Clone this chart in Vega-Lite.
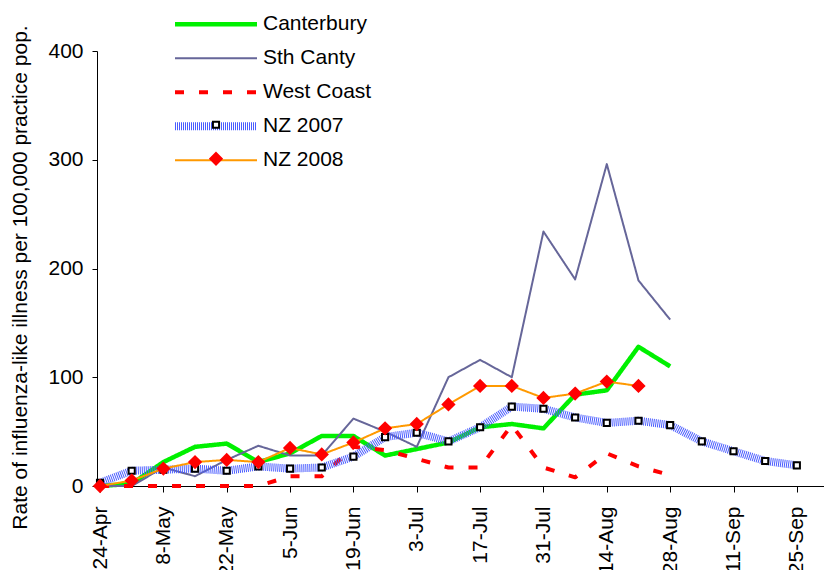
{
  "$schema": "https://vega.github.io/schema/vega-lite/v6.json",
  "width": 727,
  "height": 435,
  "autosize": "none",
  "padding": {"left": 97, "top": 51, "right": 0, "bottom": 84},
  "background": "#ffffff",
  "config": {
    "font": "Liberation Sans",
    "view": {"stroke": null},
    "axis": {"labelColor": "#000000", "titleColor": "#000000", "domainColor": "#000000", "tickColor": "#000000", "grid": false}
  },
  "data": {
    "values": [
      {"series": "Canterbury", "date": "2008-04-24T00:00", "rate": 0},
      {"series": "Canterbury", "date": "2008-05-01T00:00", "rate": 2},
      {"series": "Canterbury", "date": "2008-05-08T00:00", "rate": 22},
      {"series": "Canterbury", "date": "2008-05-15T00:00", "rate": 36},
      {"series": "Canterbury", "date": "2008-05-22T00:00", "rate": 39},
      {"series": "Canterbury", "date": "2008-05-29T00:00", "rate": 22},
      {"series": "Canterbury", "date": "2008-06-05T00:00", "rate": 30},
      {"series": "Canterbury", "date": "2008-06-12T00:00", "rate": 46},
      {"series": "Canterbury", "date": "2008-06-19T00:00", "rate": 46},
      {"series": "Canterbury", "date": "2008-06-26T00:00", "rate": 28},
      {"series": "Canterbury", "date": "2008-07-03T00:00", "rate": 34},
      {"series": "Canterbury", "date": "2008-07-10T00:00", "rate": 40},
      {"series": "Canterbury", "date": "2008-07-17T00:00", "rate": 54},
      {"series": "Canterbury", "date": "2008-07-24T00:00", "rate": 57},
      {"series": "Canterbury", "date": "2008-07-31T00:00", "rate": 53},
      {"series": "Canterbury", "date": "2008-08-07T00:00", "rate": 84},
      {"series": "Canterbury", "date": "2008-08-14T00:00", "rate": 88},
      {"series": "Canterbury", "date": "2008-08-21T00:00", "rate": 128},
      {"series": "Canterbury", "date": "2008-08-28T00:00", "rate": 110},
      {"series": "Sth Canty", "date": "2008-04-24T00:00", "rate": 0},
      {"series": "Sth Canty", "date": "2008-05-01T00:00", "rate": 0},
      {"series": "Sth Canty", "date": "2008-05-08T00:00", "rate": 17},
      {"series": "Sth Canty", "date": "2008-05-15T00:00", "rate": 9},
      {"series": "Sth Canty", "date": "2008-05-22T00:00", "rate": 24},
      {"series": "Sth Canty", "date": "2008-05-29T00:00", "rate": 37},
      {"series": "Sth Canty", "date": "2008-06-05T00:00", "rate": 28},
      {"series": "Sth Canty", "date": "2008-06-12T00:00", "rate": 28},
      {"series": "Sth Canty", "date": "2008-06-19T00:00", "rate": 62},
      {"series": "Sth Canty", "date": "2008-06-26T00:00", "rate": 50},
      {"series": "Sth Canty", "date": "2008-07-03T00:00", "rate": 36},
      {"series": "Sth Canty", "date": "2008-07-10T00:00", "rate": 100},
      {"series": "Sth Canty", "date": "2008-07-17T00:00", "rate": 116},
      {"series": "Sth Canty", "date": "2008-07-24T00:00", "rate": 100},
      {"series": "Sth Canty", "date": "2008-07-31T00:00", "rate": 234},
      {"series": "Sth Canty", "date": "2008-08-07T00:00", "rate": 190},
      {"series": "Sth Canty", "date": "2008-08-14T00:00", "rate": 296},
      {"series": "Sth Canty", "date": "2008-08-21T00:00", "rate": 189},
      {"series": "Sth Canty", "date": "2008-08-28T00:00", "rate": 153},
      {"series": "West Coast", "date": "2008-04-24T00:00", "rate": 0},
      {"series": "West Coast", "date": "2008-05-01T00:00", "rate": 0},
      {"series": "West Coast", "date": "2008-05-08T00:00", "rate": 0},
      {"series": "West Coast", "date": "2008-05-15T00:00", "rate": 0},
      {"series": "West Coast", "date": "2008-05-22T00:00", "rate": 0},
      {"series": "West Coast", "date": "2008-05-29T00:00", "rate": 0},
      {"series": "West Coast", "date": "2008-06-05T00:00", "rate": 9},
      {"series": "West Coast", "date": "2008-06-12T00:00", "rate": 9},
      {"series": "West Coast", "date": "2008-06-19T00:00", "rate": 36},
      {"series": "West Coast", "date": "2008-06-26T00:00", "rate": 33},
      {"series": "West Coast", "date": "2008-07-03T00:00", "rate": 25},
      {"series": "West Coast", "date": "2008-07-10T00:00", "rate": 17},
      {"series": "West Coast", "date": "2008-07-17T00:00", "rate": 17},
      {"series": "West Coast", "date": "2008-07-24T00:00", "rate": 56},
      {"series": "West Coast", "date": "2008-07-31T00:00", "rate": 17},
      {"series": "West Coast", "date": "2008-08-07T00:00", "rate": 8},
      {"series": "West Coast", "date": "2008-08-14T00:00", "rate": 30},
      {"series": "West Coast", "date": "2008-08-21T00:00", "rate": 18},
      {"series": "West Coast", "date": "2008-08-28T00:00", "rate": 10},
      {"series": "NZ 2007", "date": "2008-04-24T00:00", "rate": 3},
      {"series": "NZ 2007", "date": "2008-05-01T00:00", "rate": 14},
      {"series": "NZ 2007", "date": "2008-05-08T00:00", "rate": 15},
      {"series": "NZ 2007", "date": "2008-05-15T00:00", "rate": 16},
      {"series": "NZ 2007", "date": "2008-05-22T00:00", "rate": 14},
      {"series": "NZ 2007", "date": "2008-05-29T00:00", "rate": 18},
      {"series": "NZ 2007", "date": "2008-06-05T00:00", "rate": 16},
      {"series": "NZ 2007", "date": "2008-06-12T00:00", "rate": 17},
      {"series": "NZ 2007", "date": "2008-06-19T00:00", "rate": 27},
      {"series": "NZ 2007", "date": "2008-06-26T00:00", "rate": 45},
      {"series": "NZ 2007", "date": "2008-07-03T00:00", "rate": 49},
      {"series": "NZ 2007", "date": "2008-07-10T00:00", "rate": 41},
      {"series": "NZ 2007", "date": "2008-07-17T00:00", "rate": 54},
      {"series": "NZ 2007", "date": "2008-07-24T00:00", "rate": 73},
      {"series": "NZ 2007", "date": "2008-07-31T00:00", "rate": 71},
      {"series": "NZ 2007", "date": "2008-08-07T00:00", "rate": 63},
      {"series": "NZ 2007", "date": "2008-08-14T00:00", "rate": 58},
      {"series": "NZ 2007", "date": "2008-08-21T00:00", "rate": 60},
      {"series": "NZ 2007", "date": "2008-08-28T00:00", "rate": 56},
      {"series": "NZ 2007", "date": "2008-09-04T00:00", "rate": 41},
      {"series": "NZ 2007", "date": "2008-09-11T00:00", "rate": 32},
      {"series": "NZ 2007", "date": "2008-09-18T00:00", "rate": 23},
      {"series": "NZ 2007", "date": "2008-09-25T00:00", "rate": 19},
      {"series": "NZ 2008", "date": "2008-04-24T00:00", "rate": 0},
      {"series": "NZ 2008", "date": "2008-05-01T00:00", "rate": 5},
      {"series": "NZ 2008", "date": "2008-05-08T00:00", "rate": 16},
      {"series": "NZ 2008", "date": "2008-05-15T00:00", "rate": 22},
      {"series": "NZ 2008", "date": "2008-05-22T00:00", "rate": 24},
      {"series": "NZ 2008", "date": "2008-05-29T00:00", "rate": 22},
      {"series": "NZ 2008", "date": "2008-06-05T00:00", "rate": 35},
      {"series": "NZ 2008", "date": "2008-06-12T00:00", "rate": 29},
      {"series": "NZ 2008", "date": "2008-06-19T00:00", "rate": 40},
      {"series": "NZ 2008", "date": "2008-06-26T00:00", "rate": 53},
      {"series": "NZ 2008", "date": "2008-07-03T00:00", "rate": 57},
      {"series": "NZ 2008", "date": "2008-07-10T00:00", "rate": 75},
      {"series": "NZ 2008", "date": "2008-07-17T00:00", "rate": 92},
      {"series": "NZ 2008", "date": "2008-07-24T00:00", "rate": 92},
      {"series": "NZ 2008", "date": "2008-07-31T00:00", "rate": 81},
      {"series": "NZ 2008", "date": "2008-08-07T00:00", "rate": 85},
      {"series": "NZ 2008", "date": "2008-08-14T00:00", "rate": 96},
      {"series": "NZ 2008", "date": "2008-08-21T00:00", "rate": 92}
    ]
  },
  "encoding": {
    "x": {
      "field": "date",
      "type": "temporal",
      "scale": {"domain": [{"year": 2008, "month": 4, "date": 23, "hours": 8}, {"year": 2008, "month": 10, "date": 1}], "nice": false},
      "axis": {
        "title": null,
        "values": [
          {"year": 2008, "month": 4, "date": 24},
          {"year": 2008, "month": 5, "date": 8},
          {"year": 2008, "month": 5, "date": 22},
          {"year": 2008, "month": 6, "date": 5},
          {"year": 2008, "month": 6, "date": 19},
          {"year": 2008, "month": 7, "date": 3},
          {"year": 2008, "month": 7, "date": 17},
          {"year": 2008, "month": 7, "date": 31},
          {"year": 2008, "month": 8, "date": 14},
          {"year": 2008, "month": 8, "date": 28},
          {"year": 2008, "month": 9, "date": 11},
          {"year": 2008, "month": 9, "date": 25}
        ],
        "format": "%-d-%b",
        "labelAngle": -90,
        "labelFont": "Liberation Sans",
        "labelFontSize": 21,
        "labelOverlap": false,
        "labelFlush": false,
        "labelBound": false,
        "tickSize": 6,
        "labelPadding": 14
      }
    },
    "y": {
      "field": "rate",
      "type": "quantitative",
      "scale": {"domain": [0, 400], "nice": false},
      "axis": {
        "title": "Rate of influenza-like illness per 100,000 practice pop.",
        "values": [0, 100, 200, 300, 400],
        "labelFont": "Liberation Sans",
        "labelFontSize": 21,
        "tickSize": 5,
        "labelPadding": 9,
        "titleFont": "Liberation Sans",
        "titleFontSize": 21,
        "titleFontWeight": "normal",
        "titleAngle": -90,
        "titleX": -77,
        "titleY": 226,
        "titleAlign": "center",
        "titleBaseline": "middle"
      }
    }
  },
  "layer": [
    {
      "mark": {"type": "line", "strokeJoin": "round", "strokeCap": "butt"},
      "encoding": {
        "color": {
          "field": "series", "type": "nominal",
          "scale": {"domain": ["Canterbury", "Sth Canty", "West Coast", "NZ 2007", "NZ 2008"], "range": ["#00f000", "#666699", "#ff0000", "#4a5cff", "#ff9900"]},
          "legend": {"orient": "none", "legendX": 74, "legendY": -43.5, "title": null, "symbolSize": 6724, "clipHeight": 33.5, "rowPadding": 0, "padding": 0, "labelFont": "Liberation Sans", "labelFontSize": 21, "labelColor": "#000000", "labelOffset": 2, "labelLimit": 300}
        },
        "strokeDash": {
          "field": "series", "type": "nominal",
          "scale": {"domain": ["Canterbury", "Sth Canty", "West Coast", "NZ 2007", "NZ 2008"], "range": [[1, 0], [1, 0], [9, 15], [1, 1], [1, 0]]},
          "legend": {"orient": "none", "legendX": 74, "legendY": -43.5, "title": null, "symbolSize": 6724, "clipHeight": 33.5, "rowPadding": 0, "padding": 0, "labelFont": "Liberation Sans", "labelFontSize": 21, "labelColor": "#000000", "labelOffset": 2, "labelLimit": 300}
        },
        "strokeWidth": {
          "field": "series", "type": "nominal",
          "scale": {"type": "ordinal", "domain": ["Canterbury", "Sth Canty", "West Coast", "NZ 2007", "NZ 2008"], "range": [4.5, 2, 4, 8, 2]},
          "legend": {"orient": "none", "legendX": 74, "legendY": -43.5, "title": null, "symbolSize": 6724, "clipHeight": 33.5, "rowPadding": 0, "padding": 0, "labelFont": "Liberation Sans", "labelFontSize": 21, "labelColor": "#000000", "labelOffset": 2, "labelLimit": 300}
        }
      }
    },
    {
      "transform": [{"filter": {"field": "series", "oneOf": ["NZ 2007", "NZ 2008"]}}],
      "mark": {"type": "point", "filled": true, "size": 6724, "strokeWidth": 2, "opacity": 1},
      "encoding": {
        "shape": {
          "field": "series", "type": "nominal",
          "scale": {"domain": ["NZ 2007", "NZ 2008"], "range": ["M-0.075,-0.075H0.075V0.075H-0.075Z", "M0,-0.14L0.14,0L0,0.14L-0.14,0Z"]},
          "legend": {"orient": "none", "legendX": 77, "legendY": 57, "title": null, "symbolSize": 6724, "symbolStrokeWidth": 2, "clipHeight": 33.5, "rowPadding": 0, "padding": 0, "labelExpr": "''", "labelFontSize": 21}
        },
        "fill": {
          "field": "series", "type": "nominal",
          "scale": {"domain": ["NZ 2007", "NZ 2008"], "range": ["#ffffff", "#ff0000"]},
          "legend": {"orient": "none", "legendX": 77, "legendY": 57, "title": null, "symbolSize": 6724, "symbolStrokeWidth": 2, "clipHeight": 33.5, "rowPadding": 0, "padding": 0, "labelExpr": "''", "labelFontSize": 21}
        },
        "stroke": {
          "field": "series", "type": "nominal",
          "scale": {"domain": ["NZ 2007", "NZ 2008"], "range": ["#000000", "#ff0000"]},
          "legend": {"orient": "none", "legendX": 77, "legendY": 57, "title": null, "symbolSize": 6724, "symbolStrokeWidth": 2, "clipHeight": 33.5, "rowPadding": 0, "padding": 0, "labelExpr": "''", "labelFontSize": 21}
        }
      }
    }
  ]
}
